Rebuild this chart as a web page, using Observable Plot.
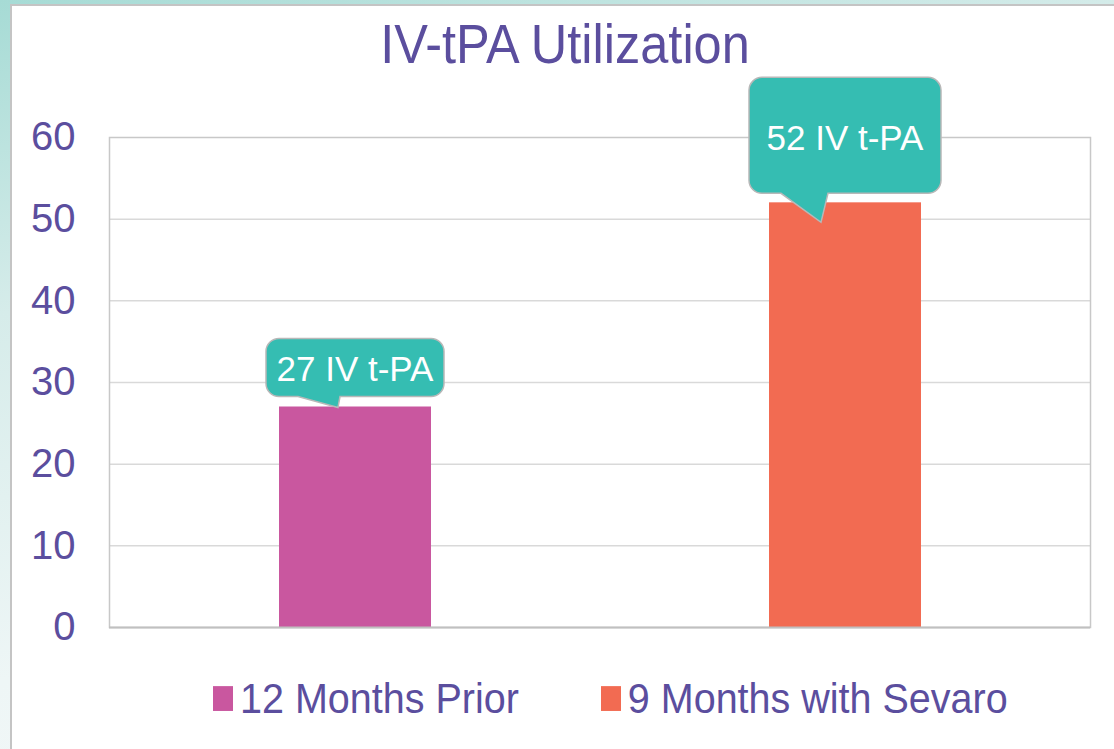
<!DOCTYPE html>
<html>
<head>
<meta charset="utf-8">
<script src="https://cdn.jsdelivr.net/npm/d3@7"></script>
<script src="https://cdn.jsdelivr.net/npm/@observablehq/plot@0.6"></script>
<style>
  html, body { margin: 0; padding: 0; width: 1114px; height: 749px; overflow: hidden; }
  body { position: relative; font-family: "Liberation Sans", Arial, sans-serif;
         background: linear-gradient(165deg, #a6dbd5 0%, #d6ecea 30%, #eef6f6 65%, #f6f9f9 100%); }
  #panel { position: absolute; left: 10px; top: 4px; width: 1120px; height: 760px; background: #fff;
           border-left: 2px solid #c4c4c4; border-top: 2px solid #c4c4c4; }
  #title { position: absolute; left: 16px; top: 19px; width: 1098px; height: 50px; line-height: 50px;
           text-align: center; font-size: 50.5px; color: #5b4e9e; transform: scaleY(1.1); }
  #chart { position: absolute; left: 0; top: 60px; }
  #legend { position: absolute; left: 213px; top: 678px; height: 40px; display: flex; align-items: center;
            font-size: 39.5px; line-height: 40px; color: #5b4e9e; transform: scaleY(1.08); transform-origin: left center; }
  .item { display: flex; align-items: center; }
  .sw { width: 20px; height: 23px; margin-right: 7px; }
</style>
</head>
<body>
<div id="panel"></div>
<div id="title">IV-tPA Utilization</div>
<div id="chart"></div>
<div id="legend"></div>
<script>
// ---- data ----
const periods = ["12 Months Prior", "9 Months with Sevaro"];
const counts = [27, 52];
const calloutLabels = ["27 IV t-PA", "52 IV t-PA"];
const yTicks = [0, 10, 20, 30, 40, 50, 60];
const gridValues = [10, 20, 30, 40, 50];

// ---- styles ----
const barColors = ["#c9579f", "#f26b52"];
const textColor = "#5b4e9e";
const calloutFill = "#35bdb2";
// callout geometry in pixels, relative to bar top-center
const calloutShapes = [
  {left: -89, right: 89, top: -68, bottom: -10, tailL: -57, tailR: -15, tipX: -17, tipY: 1, textY: -38},
  {left: -96, right: 96, top: -125, bottom: -9, tailL: -64, tailR: -17, tipX: -24, tipY: 20, textY: -65}
];

const data = periods.map((p, i) => ({period: p, count: counts[i], label: calloutLabels[i]}));

function calloutPath(cx, ty, s, r) {
  const L = cx + s.left, R = cx + s.right, T = ty + s.top, B = ty + s.bottom;
  return `M${L + r},${T} L${R - r},${T} A${r},${r} 0 0 1 ${R},${T + r} L${R},${B - r} A${r},${r} 0 0 1 ${R - r},${B}` +
         ` L${cx + s.tailR},${B} L${cx + s.tipX},${ty + s.tipY} L${cx + s.tailL},${B}` +
         ` L${L + r},${B} A${r},${r} 0 0 1 ${L},${B - r} L${L},${T + r} A${r},${r} 0 0 1 ${L + r},${T} Z`;
}

function calloutMark(index, scales) {
  const x = scales.x, y = scales.y;
  let bw = 0;
  if (x.bandwidth) bw = x.bandwidth();
  else if (scales.scales && scales.scales.x && scales.scales.x.bandwidth) bw = scales.scales.x.bandwidth;
  const g = d3.create("svg:g");
  data.forEach((d, i) => {
    const s = calloutShapes[i];
    const cx = x(d.period) + bw / 2;
    const ty = y(d.count);
    g.append("path").attr("d", calloutPath(cx, ty, s, 13))
      .attr("fill", calloutFill).attr("stroke", "#b8b8b8").attr("stroke-width", 1.5);
    g.append("text").attr("x", cx).attr("y", ty + s.textY)
      .attr("text-anchor", "middle").attr("dominant-baseline", "central")
      .attr("fill", "#fff").attr("font-size", 35).attr("font-family", "Liberation Sans, Arial, sans-serif")
      .text(d.label);
  });
  return g.node();
}

const chart = Plot.plot({
  width: 1114,
  height: 577,
  marginLeft: 109,
  marginRight: 24,
  marginTop: 77,
  marginBottom: 10,
  style: {fontFamily: "Liberation Sans, Arial, sans-serif", fontSize: "40px", color: textColor, background: "transparent", overflow: "visible"},
  x: {domain: periods, paddingInner: 0.69, paddingOuter: 0.345, axis: null},
  y: {domain: [0, 60], ticks: yTicks, tickSize: 0, tickPadding: 34, label: null},
  marks: [
    Plot.ruleY(gridValues, {stroke: "#d9d9d9", strokeWidth: 1.5}),
    Plot.frame({stroke: "#c8c8c8", strokeWidth: 1.5}),
    Plot.barY(data, {x: "period", y: "count", fill: (d) => barColors[periods.indexOf(d.period)]}),
    Plot.ruleY([0], {stroke: "#c0c0c0", strokeWidth: 2}),
    calloutMark
  ]
});
document.getElementById("chart").appendChild(chart);

const legend = d3.select("#legend");
periods.forEach((p, i) => {
  const item = legend.append("div").attr("class", "item").style("margin-right", i === 0 ? "82px" : "0");
  item.append("div").attr("class", "sw").style("background", barColors[i]);
  item.append("span").text(p);
});
</script>
</body>
</html>
